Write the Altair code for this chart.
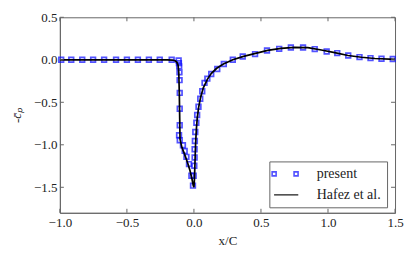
import altair as alt
import pandas as pd

# ---- data ----
present_x = [-0.99, -0.915, -0.833, -0.752, -0.670, -0.581, -0.500, -0.418, -0.336, -0.255, -0.166,
             -0.114, -0.112, -0.110, -0.108, -0.107, -0.106, -0.106, -0.106, -0.111, -0.106,
             -0.082, -0.069, -0.056, -0.037, -0.019, -0.007,
             -0.002, 0.003, 0.005, 0.005, 0.007, 0.010, 0.018, 0.024, 0.034, 0.047, 0.062, 0.079,
             0.100, 0.129, 0.174, 0.223, 0.290, 0.364, 0.456, 0.545, 0.636, 0.723, 0.814, 0.901,
             0.990, 1.069, 1.151, 1.235, 1.317, 1.399, 1.483]
present_y = [0.0, 0.0, 0.0, 0.0, 0.0, 0.0, 0.0, 0.0, 0.0, 0.0, 0.0,
             -0.008, -0.040, -0.078, -0.148, -0.240, -0.390, -0.576, -0.770, -0.888, -0.947,
             -1.005, -1.072, -1.142, -1.227, -1.364, -1.481,
             -1.364, -1.247, -1.149, -1.052, -0.955, -0.850, -0.740, -0.649, -0.553, -0.459, -0.370, -0.272,
             -0.222, -0.167, -0.108, -0.050, 0.0, 0.039, 0.067, 0.109, 0.129, 0.144, 0.144, 0.126,
             0.098, 0.079, 0.051, 0.032, 0.020, 0.012, 0.009]

hafez_x = [-1.0, -0.5, -0.2, -0.16, -0.14, -0.127, -0.118, -0.113, -0.109, -0.106, -0.104,
           -0.09, -0.07, -0.05, -0.03, -0.015, -0.005, 0.0, 0.004, 0.008, 0.012, 0.018, 0.025,
           0.035, 0.05, 0.07, 0.1, 0.13, 0.17, 0.22, 0.29, 0.37, 0.46, 0.55, 0.65, 0.75, 0.85,
           0.95, 1.05, 1.15, 1.25, 1.35, 1.5]
hafez_y = [0.0, 0.0, 0.0, -0.003, -0.012, -0.03, -0.065, -0.15, -0.4, -0.7, -0.93,
           -1.03, -1.11, -1.2, -1.3, -1.4, -1.48, -1.5, -1.4, -1.2, -1.0, -0.82, -0.68,
           -0.56, -0.44, -0.33, -0.23, -0.16, -0.1, -0.05, 0.0, 0.04, 0.075, 0.11, 0.135, 0.147, 0.143,
           0.115, 0.085, 0.05, 0.03, 0.015, 0.005]

x_ticks = [-1.0, -0.5, 0.0, 0.5, 1.0, 1.5]
y_ticks = [-1.5, -1.0, -0.5, 0.0, 0.5]

series_names = ["present", "present_key", "Hafez et al."]
series_colors = ["#0a0aff", "#0a0aff", "#000000"]

# ---- style ----
FONT = "Liberation Serif"
AX = "#666666"
W, H = 336, 196

TWO_SQ = "M-1.48,-0.8H0.12V0.8H-1.48Z M7.32,-0.8H8.92V0.8H7.32Z"
LINE_P = "M-0.7,0H9.0"

pts = pd.DataFrame({"x": present_x, "y": present_y, "series": "present"})
hz = pd.DataFrame({"x": hafez_x, "y": hafez_y, "i": list(range(len(hafez_x)))})
xt = pd.DataFrame({"x": x_ticks})
yt = pd.DataFrame({"y": y_ticks})

xs = alt.Scale(domain=[-1.0, 1.5], nice=False, zero=False)
ys = alt.Scale(domain=[-1.8, 0.5], nice=False, zero=False)

x_axis = alt.Axis(values=x_ticks, format=".1f", tickSize=0, grid=False, labelFlush=False,
                  domainColor=AX, labelFont=FONT, labelFontSize=13, labelColor="#222",
                  labelPadding=4, titleFont=FONT, titleFontSize=13, titleFontWeight="normal",
                  titleColor="#222", titleY=32, titleBaseline="alphabetic")
y_axis = alt.Axis(values=y_ticks, format=".1f", tickSize=0, grid=False, labelFlush=False,
                  domainColor=AX, labelFont=FONT, labelFontSize=13, labelColor="#222",
                  labelPadding=3, titleFont=FONT, titleFontSize=13, titleFontWeight="normal",
                  titleFontStyle="italic", titleColor="#222", titleX=-39, titleY=H / 2,
                  titleAngle=270, titleAlign="center", titleBaseline="alphabetic")

x_enc = alt.X("x:Q", scale=xs, axis=x_axis, title="x/C")
y_enc = alt.Y("y:Q", scale=ys, axis=y_axis, title="-c̄ₚ")

leg = alt.Legend(title=None, orient="none", legendX=210, legendY=144.5,
                 values=["present_key", "Hafez et al."],
                 labelExpr="datum.value == 'present_key' ? 'present' : datum.label",
                 labelFont=FONT, labelFontSize=14, labelColor="#222", labelOffset=34,
                 symbolSize=25, symbolStrokeWidth=1.6, symbolOffset=-6, rowPadding=7, padding=5.5,
                 fillColor="white", strokeColor=AX, cornerRadius=0)

points = alt.Chart(pts).mark_point(filled=False, size=22, strokeWidth=1.7).encode(
    x=x_enc, y=y_enc,
    color=alt.Color("series:N", scale=alt.Scale(domain=series_names, range=series_colors), legend=leg),
    shape=alt.Shape("series:N", scale=alt.Scale(domain=series_names, range=["square", TWO_SQ, LINE_P]), legend=leg),
)

line = alt.Chart(hz).mark_line(color="black", strokeWidth=1.7).encode(
    x=x_enc, y=y_enc, order="i:Q")

tb = alt.Chart(xt).mark_rule(color=AX, strokeWidth=1).encode(x=x_enc, y=alt.value(H), y2=alt.value(H - 4))
tt = alt.Chart(xt).mark_rule(color=AX, strokeWidth=1).encode(x=x_enc, y=alt.value(0), y2=alt.value(4))
tl = alt.Chart(yt).mark_rule(color=AX, strokeWidth=1).encode(y=y_enc, x=alt.value(0), x2=alt.value(4))
tr = alt.Chart(yt).mark_rule(color=AX, strokeWidth=1).encode(y=y_enc, x=alt.value(W), x2=alt.value(W - 4))

chart = alt.layer(points, line, tb, tt, tl, tr).properties(
    width=W, height=H,
    autosize=alt.AutoSizeParams(type="none"),
    padding={"left": 52, "top": 9, "right": 12, "bottom": 40},
).configure_view(stroke=AX, strokeWidth=1).configure_legend(strokeWidth=1)

chart.save("out.html", embed_options={"renderer": "svg", "actions": False})
